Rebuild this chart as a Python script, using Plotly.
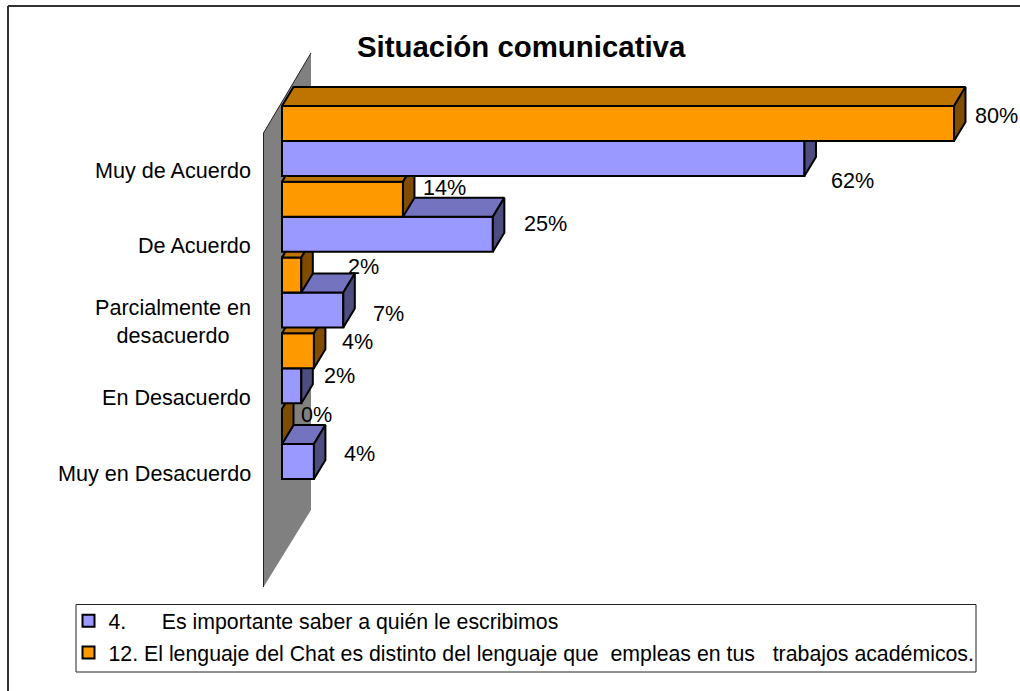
import plotly.graph_objects as go

categories = ["Muy de Acuerdo", "De Acuerdo", "Parcialmente en<br>desacuerdo", "En Desacuerdo", "Muy en Desacuerdo"]
series_blue_name = "4.\u00a0\u00a0\u00a0\u00a0\u00a0\u00a0Es importante saber a quién le escribimos"
series_orange_name = "12. El lenguaje del Chat es distinto del lenguaje que\u00a0\u00a0empleas en tus\u00a0\u00a0\u00a0trabajos académicos."
blue_values = [62.2, 25.1, 7.3, 2.3, 3.8]
orange_values = [80.0, 14.4, 2.3, 3.8, 0.0]
blue_labels = ["62%", "25%", "7%", "2%", "4%"]
orange_labels = ["80%", "14%", "2%", "4%", "0%"]
title_text = "Situación comunicativa"

W, H = 1020, 691
X0_PX, PX_PER_PCT = 282.0, 8.4
ROW0_PX, ROW_PX = 141.0, 75.75
DEPTH_X_PX, DEPTH_Y_PX = 11.5, 19.0
BAR_PX = 35.0
FONT = "Liberation Sans"
TXT = 21.6

dx = DEPTH_X_PX / PX_PER_PCT
dy = DEPTH_Y_PX / ROW_PX
bar_h = BAR_PX / ROW_PX
n = len(categories)
row_pos = [n - 1 - i for i in range(n)]
x_range = [-X0_PX / PX_PER_PCT, (W - X0_PX) / PX_PER_PCT]
y_range = [(n - 1) - (H - ROW0_PX) / ROW_PX, (n - 1) + ROW0_PX / ROW_PX]

BLUE = dict(front="#9999FF", top="#7373BF", side="#4D4D80")
ORANGE = dict(front="#FF9900", top="#BF7300", side="#804D00")

# pixel nudges of the value labels from the bar end / bar centre
blue_label_dx = [25, 29, 28, 21, 28]
blue_label_dy = [-22, 11, -3, 10, 8]
orange_label_dx = [19, 18, 45, 26, 17]
orange_label_dy = [8, 12, 9, 9, 12]

fig = go.Figure()
annotations = []
ax_count = 0
axes = {}


def add_bar(value, pos, colors, name, group, show):
    global ax_count
    ax_count += 1
    yname = "y" if ax_count == 1 else f"y{ax_count}"
    layout_key = "yaxis" if ax_count == 1 else f"yaxis{ax_count}"
    cfg = dict(range=y_range, visible=False, fixedrange=True)
    if ax_count > 1:
        cfg.update(overlaying="y", anchor="x")
    axes[layout_key] = cfg
    low, high = pos - bar_h / 2, pos + bar_h / 2
    line = dict(color="black", width=2)
    fig.add_trace(go.Bar(x=[value], y=[pos], width=bar_h, orientation="h", yaxis=yname,
                         marker=dict(color=colors["front"], line=dict(color="black", width=2)),
                         name=name, legendgroup=group, showlegend=show))
    fig.add_trace(go.Scatter(x=[0, dx, value + dx, value, 0], y=[high, high + dy, high + dy, high, high],
                             mode="lines", fill="toself", fillcolor=colors["top"], line=line,
                             yaxis=yname, showlegend=False, legendgroup=group, hoverinfo="skip"))
    fig.add_trace(go.Scatter(x=[value, value + dx, value + dx, value, value],
                             y=[low, low + dy, high + dy, high, low],
                             mode="lines", fill="toself", fillcolor=colors["side"], line=line,
                             yaxis=yname, showlegend=False, legendgroup=group, hoverinfo="skip"))


first = True
for i in reversed(range(n)):
    add_bar(blue_values[i], row_pos[i] - bar_h / 2, BLUE, series_blue_name, "blue", first)
    add_bar(orange_values[i], row_pos[i] + bar_h / 2, ORANGE, series_orange_name, "orange", first)
    first = False

for i in range(n):
    annotations.append(dict(x=0, y=row_pos[i], xref="x", yref="y", text=categories[i], showarrow=False,
                            xanchor="right", yanchor="middle", align="center", xshift=-29, yshift=-29,
                            font=dict(family=FONT, size=TXT, color="black")))
    annotations.append(dict(x=blue_values[i], y=row_pos[i] - bar_h / 2, xref="x", yref="y", text=blue_labels[i],
                            showarrow=False, xanchor="left", yanchor="middle", xshift=blue_label_dx[i],
                            yshift=blue_label_dy[i], font=dict(family=FONT, size=TXT, color="black")))
    annotations.append(dict(x=orange_values[i], y=row_pos[i] + bar_h / 2, xref="x", yref="y", text=orange_labels[i],
                            showarrow=False, xanchor="left", yanchor="middle", xshift=orange_label_dx[i],
                            yshift=orange_label_dy[i], font=dict(family=FONT, size=TXT, color="black")))


def px(x):
    return x / W


def py(y):
    return 1 - y / H


wall = "M %f,%f L %f,%f L %f,%f L %f,%f Z" % (px(263.5), py(133), px(311), py(53), px(311), py(510), px(263.5), py(587))
shapes = [
    dict(type="line", xref="paper", yref="paper", x0=px(8), x1=1, y0=py(6), y1=py(6),
         line=dict(color="#333333", width=2), layer="below"),
    dict(type="line", xref="paper", yref="paper", x0=px(8), x1=px(8), y0=py(6), y1=0,
         line=dict(color="#333333", width=2), layer="below"),
    dict(type="path", xref="paper", yref="paper", path=wall, fillcolor="#808080", line=dict(width=0), layer="below"),
    dict(type="line", xref="paper", yref="paper", x0=px(263.5), y0=py(587), x1=px(263.5), y1=py(133),
         line=dict(color="#222222", width=1), layer="below"),
    dict(type="line", xref="paper", yref="paper", x0=px(263.5), y0=py(133), x1=px(311), y1=py(53),
         line=dict(color="#222222", width=1), layer="below"),
    dict(type="rect", xref="paper", yref="paper", x0=px(76), x1=px(976), y0=py(604.5), y1=py(672),
         line=dict(color="#222222", width=1), fillcolor="white", layer="below"),
]

fig.update_layout(
    width=W, height=H, autosize=False, margin=dict(l=0, r=0, t=0, b=0),
    paper_bgcolor="white", plot_bgcolor="rgba(0,0,0,0)", barmode="overlay",
    xaxis=dict(range=x_range, visible=False, fixedrange=True),
    title=dict(text=title_text, x=357 / W, xanchor="left", y=1 - 47 / H, yanchor="middle",
               font=dict(family=FONT, size=29.4, color="black", weight="bold")),
    legend=dict(x=px(68.5), xanchor="left", y=py(600.5), yanchor="top", traceorder="grouped", tracegroupgap=1,
                bgcolor="rgba(0,0,0,0)", borderwidth=0, font=dict(family=FONT, size=21.3, color="black")),
    shapes=shapes, annotations=annotations, **axes,
)

fig.write_html("out.html", config=dict(displayModeBar=False), post_script="document.body.style.margin='0';")
